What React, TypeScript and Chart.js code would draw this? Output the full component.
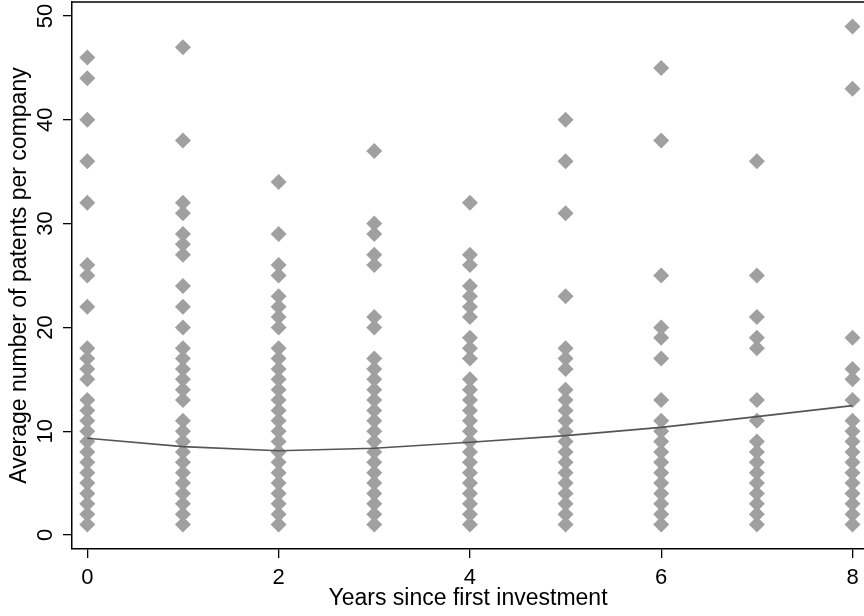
import React, { useEffect, useRef } from 'react';
import { Chart, registerables } from 'chart.js';

Chart.register(...registerables);

// Years since first investment (x categories)
const YEARS = [0, 1, 2, 3, 4, 5, 6, 7, 8];

// Average number of patents per company, one list per year
const PATENTS_YEAR0 = [1, 2, 3, 4, 5, 6, 7, 8, 9, 10, 11, 12, 13, 15, 16, 17, 18, 22, 25, 26, 32, 36, 40, 44, 46];
const PATENTS_YEAR1 = [1, 2, 3, 4, 5, 6, 7, 8, 9, 10, 11, 13, 14, 15, 16, 17, 18, 20, 22, 24, 27, 28, 29, 31, 32, 38, 47];
const PATENTS_YEAR2 = [1, 2, 3, 4, 5, 6, 7, 8, 9, 10, 11, 12, 13, 14, 15, 16, 17, 18, 20, 21, 22, 23, 25, 26, 29, 34];
const PATENTS_YEAR3 = [1, 2, 3, 4, 5, 6, 7, 8, 9, 10, 11, 12, 13, 14, 15, 16, 17, 20, 21, 26, 27, 29, 30, 37];
const PATENTS_YEAR4 = [1, 2, 3, 4, 5, 6, 7, 8, 9, 10, 11, 12, 13, 14, 15, 17, 18, 19, 21, 22, 23, 24, 26, 27, 32];
const PATENTS_YEAR5 = [1, 2, 3, 4, 5, 6, 7, 8, 9, 10, 11, 12, 13, 14, 16, 17, 18, 23, 31, 36, 40];
const PATENTS_YEAR6 = [1, 2, 3, 4, 5, 6, 7, 8, 9, 10, 11, 13, 17, 19, 20, 25, 38, 45];
const PATENTS_YEAR7 = [1, 2, 3, 4, 5, 6, 7, 8, 9, 11, 13, 18, 19, 21, 25, 36];
const PATENTS_YEAR8 = [1, 2, 3, 4, 5, 6, 7, 8, 9, 10, 11, 13, 15, 16, 19, 43, 49];

// Fitted values at each year
const FITTED = [9.32, 8.51, 8.12, 8.35, 8.94, 9.57, 10.37, 11.4, 12.46];

const X_TICKS = [0, 2, 4, 6, 8];
const Y_TICKS = [0, 10, 20, 30, 40, 50];

const X_TITLE = 'Years since first investment';
const Y_TITLE = 'Average number of patents per company';

const COLUMNS = [
  PATENTS_YEAR0, PATENTS_YEAR1, PATENTS_YEAR2, PATENTS_YEAR3, PATENTS_YEAR4,
  PATENTS_YEAR5, PATENTS_YEAR6, PATENTS_YEAR7, PATENTS_YEAR8,
];

const FONT_FAMILY = "'Liberation Sans', Arial, Helvetica, sans-serif";

const frameTop = {
  id: 'frameTop',
  afterDatasetsDraw(chart: any) {
    const { ctx, chartArea } = chart;
    ctx.save();
    ctx.strokeStyle = '#000';
    ctx.lineWidth = 1.5;
    ctx.beginPath();
    ctx.moveTo(chartArea.left, chartArea.top);
    ctx.lineTo(chartArea.right, chartArea.top);
    ctx.stroke();
    ctx.restore();
  },
};

export default function App() {
  const canvasRef = useRef<HTMLCanvasElement | null>(null);

  useEffect(() => {
    document.body.style.margin = '0';
    const canvas = canvasRef.current;
    if (!canvas) return;

    const points = COLUMNS.flatMap((col, i) => col.map((v) => ({ x: YEARS[i], y: v })));
    const fitted = YEARS.map((x, i) => ({ x, y: FITTED[i] }));

    const chart = new Chart(canvas, {
      type: 'scatter',
      data: {
        datasets: [
          {
            label: 'Fitted values',
            data: fitted,
            showLine: true,
            borderColor: '#555555',
            borderWidth: 1.6,
            pointRadius: 0,
            fill: false,
            tension: 0,
          },
          {
            label: 'Patents',
            data: points,
            pointStyle: 'rectRot',
            pointRadius: 8,
            pointBorderWidth: 0,
            backgroundColor: '#a0a0a0',
            borderColor: '#a0a0a0',
          },
        ],
      },
      plugins: [frameTop],
      options: {
        animation: false,
        responsive: false,
        devicePixelRatio: 1,
        layout: { autoPadding: false, padding: { top: 2, left: 0, right: 0, bottom: 0 } },
        plugins: {
          legend: { display: false },
          tooltip: { enabled: false },
        },
        scales: {
          x: {
            type: 'linear',
            min: -0.16,
            max: 8.12,
            afterBuildTicks: (scale: any) => {
              scale.ticks = X_TICKS.map((v) => ({ value: v }));
            },
            afterFit: (scale: any) => {
              scale.height = 67;
              scale.paddingLeft = 0;
              scale.paddingRight = 0;
            },
            grid: {
              display: true,
              drawOnChartArea: false,
              drawTicks: true,
              tickLength: 9,
              color: '#000',
              lineWidth: 1.3,
            },
            border: { display: true, color: '#000', width: 1.5 },
            ticks: {
              autoSkip: false,
              maxRotation: 0,
              minRotation: 0,
              padding: 6.3,
              color: '#000',
              font: { family: FONT_FAMILY, size: 22, lineHeight: 1.2 },
            },
            title: {
              display: true,
              text: X_TITLE,
              color: '#000',
              padding: { top: 0, bottom: 3.2 },
              font: { family: FONT_FAMILY, size: 23, lineHeight: 1.2 },
            },
          },
          y: {
            type: 'linear',
            min: -1.35,
            max: 51.35,
            afterBuildTicks: (scale: any) => {
              scale.ticks = Y_TICKS.map((v) => ({ value: v }));
            },
            afterFit: (scale: any) => {
              scale.width = 72;
              scale.paddingTop = 0;
              scale.paddingBottom = 0;
            },
            grid: {
              display: true,
              drawOnChartArea: false,
              drawTicks: true,
              tickLength: 9,
              color: '#000',
              lineWidth: 1.3,
            },
            border: { display: true, color: '#000', width: 1.5 },
            ticks: {
              autoSkip: false,
              minRotation: 90,
              maxRotation: 90,
              crossAlign: 'center',
              padding: 4.5,
              color: '#000',
              font: { family: FONT_FAMILY, size: 22, lineHeight: 1.2 },
            },
            title: {
              display: true,
              text: Y_TITLE,
              color: '#000',
              padding: { top: 5.9, bottom: 0 },
              font: { family: FONT_FAMILY, size: 23, lineHeight: 1.2 },
            },
          },
        },
      },
    } as any);

    return () => {
      chart.destroy();
    };
  }, []);

  return (
    <div style={{ width: 864, height: 616, position: 'relative', background: '#fff' }}>
      <canvas ref={canvasRef} width={864} height={616} style={{ width: 864, height: 616, display: 'block' }} />
    </div>
  );
}
